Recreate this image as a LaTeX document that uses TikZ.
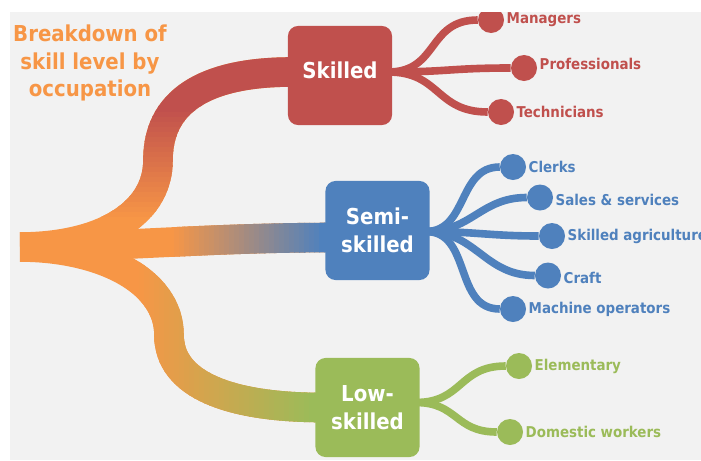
\documentclass[tikz,border=0pt]{standalone}
\usepackage{fontspec}
\setmainfont{DejaVu Sans Condensed}[BoldFont={DejaVu Sans Condensed Bold}]
\usetikzlibrary{calc, backgrounds}
\definecolor{trunkorange}{HTML}{F79646}
\definecolor{skillred}{HTML}{C0504D}
\definecolor{semiblue}{HTML}{4F81BD}
\definecolor{lowgreen}{HTML}{9BBB59}
\definecolor{panelgray}{HTML}{F2F2F2}

% the three thick branches, used for the plain and the shaded passes
\newcommand{\upperbranch}{(root) .. controls (100,247) and (158,215) .. (158,160) .. controls (158,95) and (215,72) .. (skilledin)}
\newcommand{\middlebranch}{(root) .. controls (120,247) and (200,238) .. (semiin)}
\newcommand{\lowerbranch}{(root) .. controls (100,247) and (169,280) .. (169,335) .. controls (169,385) and (230,407) .. (lowin)}

\begin{document}
\begin{tikzpicture}[x=0.025cm, y=-0.025cm,
    levelbox/.style={rectangle, rounded corners=0.25cm, fill=#1, text=white,
                     minimum width=2.6cm, minimum height=2.475cm, inner sep=0pt,
                     align=center, font=\fontsize{15.6}{19.8}\selectfont\bfseries},
    leafdot/.style={circle, fill=#1, minimum size=0.65cm, inner sep=0pt},
    leaftext/.style={text=#1, inner sep=1.5pt, font=\fontsize{10.6}{12}\selectfont\bfseries},
    branchline/.style={draw=trunkorange, line width=0.74cm},
    stemline/.style={draw=#1, line width=0.19cm},
]
    \useasboundingbox (0,0) rectangle (701,460);
    \clip (10,12) rectangle (701,460);

    % Title
    \node[text=trunkorange, align=center, font=\fontsize{15.6}{19.8}\selectfont\bfseries] (title) at (90,63) {Breakdown of\\skill level by\\occupation};

    % Skill levels
    \node[levelbox=skillred, text depth=7pt] (skilled) at (340,75.5) {Skilled};
    \node[levelbox=semiblue] (semi) at (377.5,230.5) {Semi-\\skilled};
    \node[levelbox=lowgreen] (low) at (367.5,407.5) {Low-\\skilled};

    \coordinate (root) at (20,247);
    \coordinate (skilledin) at ($(skilled.west)+(4,-3.5)$);
    \coordinate (semiin) at ($(semi.west)+(4,7)$);
    \coordinate (lowin) at ($(low.west)+(4,0)$);
    \coordinate (skilledhub) at ($(skilled.east)+(-4,-3.5)$);
    \coordinate (semihub) at ($(semi.east)+(-4,1)$);
    \coordinate (lowhub) at ($(low.east)+(-4,-5)$);

    % Skilled occupations
    \node[leafdot=skillred, label={[leaftext=skillred]right:Managers}] (managers) at (491,20) {};
    \node[leafdot=skillred, label={[leaftext=skillred, yshift=3pt]right:Professionals}] (professionals) at (524,68) {};
    \node[leafdot=skillred, label={[leaftext=skillred]right:Technicians}] (technicians) at (501,112) {};

    % Semi-skilled occupations
    \node[leafdot=semiblue, label={[leaftext=semiblue]right:Clerks}] (clerks) at (513,167) {};
    \node[leafdot=semiblue, label={[leaftext=semiblue, yshift=-2pt]right:Sales \& services}] (sales) at (540,197.5) {};
    \node[leafdot=semiblue, label={[leaftext=semiblue]right:Skilled agriculture}] (agriculture) at (552,236) {};
    \node[leafdot=semiblue, label={[leaftext=semiblue, yshift=-2pt]right:Craft}] (craft) at (548,275.5) {};
    \node[leafdot=semiblue, label={[leaftext=semiblue]right:Machine operators}] (machine) at (513,309) {};

    % Low-skilled occupations
    \node[leafdot=lowgreen, label={[leaftext=lowgreen]right:Elementary}] (elementary) at (519,366) {};
    \node[leafdot=lowgreen, label={[leaftext=lowgreen]right:Domestic workers}] (domestic) at (510,432) {};

    \begin{pgfonlayer}{background}
        \clip (10,12) rectangle (701,460);
        \fill[panelgray] (10,12) rectangle (701,460);

        % Branches, orange at the root
        \draw[branchline] \upperbranch;
        \draw[branchline] \middlebranch;
        \draw[branchline] \lowerbranch;

        % upper branch turns red going up
        \foreach \i in {1,...,22} {
            \pgfmathtruncatemacro{\p}{\i*100/22}
            \begin{scope}
                \clip (0,{215-5*\i}) rectangle (701,{216-5*(\i-1)});
                \draw[branchline, draw=skillred!\p!trunkorange] \upperbranch;
            \end{scope}
        }
        \begin{scope}
            \clip (0,0) rectangle (701,106);
            \draw[branchline, draw=skillred] \upperbranch;
        \end{scope}

        % middle branch turns blue going right
        \foreach \i in {1,...,30} {
            \pgfmathtruncatemacro{\p}{\i*100/30}
            \begin{scope}
                \clip ({174+5*(\i-1)},0) rectangle ({175+5*\i},460);
                \draw[branchline, draw=semiblue!\p!trunkorange] \middlebranch;
            \end{scope}
        }
        \begin{scope}
            \clip (324,0) rectangle (701,460);
            \draw[branchline, draw=semiblue] \middlebranch;
        \end{scope}

        % lower branch turns green going right
        \foreach \i in {1,...,35} {
            \pgfmathtruncatemacro{\p}{\i*100/35}
            \begin{scope}
                \clip ({139+5*(\i-1)},0) rectangle ({140+5*\i},460);
                \draw[branchline, draw=lowgreen!\p!trunkorange] \lowerbranch;
            \end{scope}
        }
        \begin{scope}
            \clip (314,0) rectangle (701,460);
            \draw[branchline, draw=lowgreen] \lowerbranch;
        \end{scope}

        % Stems
        \draw[stemline=skillred] (skilledhub) to[out=0, in=180, looseness=1.25] (managers);
        \draw[stemline=skillred] (skilledhub) to[out=0, in=180, looseness=1.25] (professionals);
        \draw[stemline=skillred] (skilledhub) to[out=0, in=180, looseness=1.25] (technicians);

        \draw[stemline=semiblue] (semihub) to[out=0, in=180, looseness=1.1] (clerks);
        \draw[stemline=semiblue] (semihub) to[out=0, in=180, looseness=1.1] (sales);
        \draw[stemline=semiblue] (semihub) to[out=0, in=180, looseness=1.1] (agriculture);
        \draw[stemline=semiblue] (semihub) to[out=0, in=180, looseness=1.1] (craft);
        \draw[stemline=semiblue] (semihub) to[out=0, in=180, looseness=1.1] (machine);

        \draw[stemline=lowgreen] (lowhub) to[out=0, in=180, looseness=1.25] (elementary);
        \draw[stemline=lowgreen] (lowhub) to[out=0, in=180, looseness=1.25] (domestic);
    \end{pgfonlayer}
\end{tikzpicture}
\end{document}
